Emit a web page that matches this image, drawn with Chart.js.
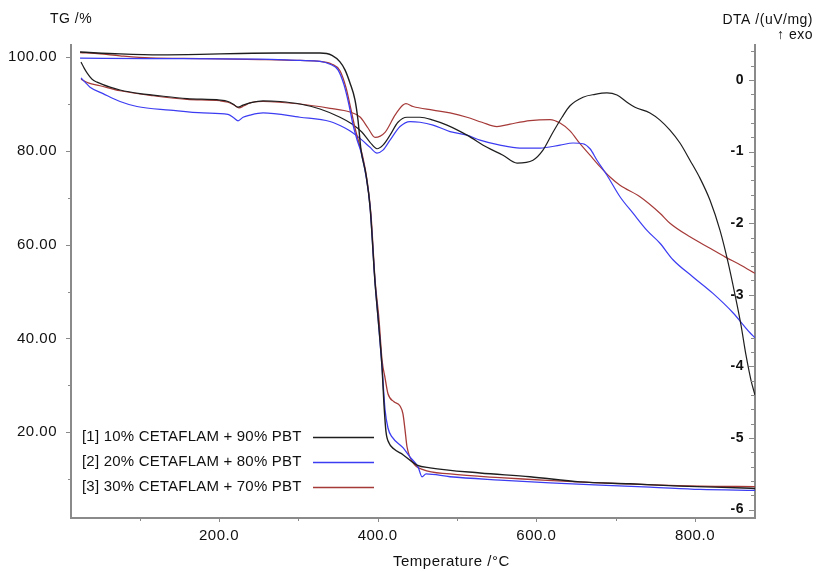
<!DOCTYPE html>
<html><head><meta charset="utf-8">
<script src="https://cdn.jsdelivr.net/npm/chart.js@4"></script>
<style>html,body{margin:0;padding:0;background:#fff;}canvas{display:block;}</style>
</head><body>
<canvas id="c" width="817" height="572"></canvas>
<script>
// ---- data ----
const seriesNames = ['[1] 10% CETAFLAM + 90% PBT', '[2] 20% CETAFLAM + 80% PBT', '[3] 30% CETAFLAM + 70% PBT'];
const tgTickValues = [20, 40, 60, 80, 100];
const dtaTickValues = [-6, -5, -4, -3, -2, -1, 0];
const tempTickValues = [200, 400, 600, 800];

// TG curves (temperature °C, mass %)
const tg1T = [24.8,75.2,125.6,176.0,226.5,276.9,327.3,342.4,352.5,358.8,365.1,371.4,375.2,379.0,385.3,390.4,396.7,400.4,405.5,408.0,410.5,414.3,420.6,431.9,449.6,466.0,529.0,592.0,655.1,718.1,781.1,860.6,875.7];
const tg1V = [101.1,100.7,100.5,100.6,100.8,100.9,100.9,100.4,99.0,97.3,94.5,90.9,86.6,80.2,74.9,68.1,51.9,44.6,33.9,25.8,20.1,17.7,16.4,15.2,13.0,12.4,11.3,10.5,9.4,9.0,8.5,8.1,8.0];
const tg2T = [24.8,113.0,251.7,302.1,327.3,339.9,350.0,357.6,363.9,368.9,374.0,379.0,385.3,390.4,396.7,400.4,405.5,409.3,413.0,418.1,431.9,440.8,450.9,455.9,461.0,491.2,554.2,617.3,680.3,743.3,806.3,875.7];
const tg2V = [99.8,99.7,99.6,99.3,99.1,98.5,97.3,94.1,89.8,85.6,82.4,79.8,74.7,68.1,51.9,44.6,33.9,24.8,20.9,19.0,16.7,14.7,12.6,10.5,11.1,10.5,9.8,9.2,8.7,8.3,7.8,7.6];
const tg3T = [24.8,50.0,75.2,113.0,176.0,251.7,302.1,327.3,342.4,352.5,360.1,366.4,371.4,376.5,381.5,386.6,391.6,396.7,401.7,405.5,409.3,413.0,420.6,428.2,431.9,434.5,437.0,444.6,457.2,491.2,554.2,680.3,806.3,875.7];
const tg3V = [101.0,100.7,100.3,99.85,99.7,99.5,99.3,99.1,98.5,97.1,93.5,88.8,84.9,81.7,78.5,73.8,66.4,52.5,44.0,35.4,31.6,28.2,26.5,25.6,23.9,20.5,16.9,13.5,12.0,11.1,10.3,9.2,8.5,8.4];

// DTA curves (temperature °C, uV/mg)
const dta1T = [26.0,29.8,33.6,40.0,46.2,62.6,75.2,100.4,116.8,159.7,201.3,211.3,217.6,224.0,230.3,239.1,255.5,276.9,302.1,327.3,352.5,367.7,380.3,390.4,399.2,406.7,415.6,425.6,437.0,453.4,469.8,487.4,512.6,537.8,558.0,575.7,595.8,608.4,621.0,632.4,642.5,658.9,674.0,689.1,701.7,714.3,724.4,743.3,755.9,768.5,781.1,793.7,806.3,819.0,831.6,841.6,850.5,858.0,864.3,870.6,875.7];
const dta1V = [0.25,0.17,0.10,0.01,-0.03,-0.10,-0.14,-0.19,-0.21,-0.26,-0.28,-0.30,-0.335,-0.38,-0.35,-0.32,-0.29,-0.30,-0.335,-0.405,-0.52,-0.615,-0.73,-0.87,-0.96,-0.91,-0.77,-0.59,-0.52,-0.52,-0.56,-0.63,-0.77,-0.94,-1.05,-1.16,-1.12,-0.98,-0.73,-0.52,-0.36,-0.24,-0.20,-0.18,-0.21,-0.31,-0.38,-0.46,-0.56,-0.70,-0.88,-1.12,-1.37,-1.68,-2.10,-2.54,-3.00,-3.42,-3.84,-4.19,-4.40];
const dta2T = [26.0,31.1,37.4,53.8,75.2,96.6,138.2,179.8,211.3,218.9,224.0,230.3,239.1,255.5,302.1,339.9,358.8,367.7,380.3,390.4,399.2,406.7,415.6,428.2,440.8,453.4,469.8,491.2,512.6,529.0,554.2,579.4,604.7,629.9,646.3,658.9,667.7,676.5,689.1,705.5,721.9,739.5,755.9,772.3,797.5,822.7,847.9,869.4,875.7];
const dta2V = [0.03,-0.03,-0.10,-0.19,-0.30,-0.37,-0.42,-0.46,-0.48,-0.53,-0.57,-0.52,-0.49,-0.46,-0.52,-0.58,-0.67,-0.73,-0.84,-0.94,-1.02,-0.98,-0.84,-0.65,-0.58,-0.59,-0.63,-0.72,-0.77,-0.84,-0.91,-0.95,-0.95,-0.91,-0.88,-0.89,-0.96,-1.12,-1.33,-1.63,-1.86,-2.10,-2.28,-2.51,-2.75,-2.98,-3.25,-3.53,-3.60];
const dta3T = [26.0,35.1,50.0,75.2,116.8,159.7,201.3,211.3,218.9,225.2,231.5,239.1,255.5,302.1,339.9,365.1,377.8,387.8,396.7,409.3,421.9,431.9,435.7,444.6,469.8,491.2,512.6,531.5,550.4,566.8,592.0,617.3,629.9,642.5,655.1,667.7,680.3,692.9,705.5,730.7,755.9,768.5,793.7,819.0,837.9,856.8,875.7];
const dta3V = [0.01,-0.04,-0.08,-0.15,-0.22,-0.27,-0.29,-0.31,-0.35,-0.39,-0.36,-0.32,-0.30,-0.335,-0.395,-0.447,-0.517,-0.67,-0.80,-0.73,-0.49,-0.35,-0.33,-0.37,-0.42,-0.46,-0.52,-0.59,-0.65,-0.615,-0.566,-0.552,-0.60,-0.71,-0.89,-1.05,-1.21,-1.355,-1.47,-1.63,-1.86,-2.00,-2.19,-2.35,-2.47,-2.58,-2.70];

// ---- styling ----
const FONT = "'Liberation Sans', Arial, sans-serif";
const axisColor = '#8a8a8a';
const colBlack = '#1e1e1e', colBlue = '#3c3cf2', colRed = '#a53a38';
const seriesColors = [colBlack, colBlue, colRed];

function pts(xs, ys) { return xs.map((x, i) => ({x: x, y: ys[i]})); }
function ds(xs, ys, color, axis, w) {
  return {data: pts(xs, ys), borderColor: color, borderWidth: w, yAxisID: axis,
    pointRadius: 0, showLine: true, fill: false, cubicInterpolationMode: 'monotone'};
}

const decor = {
  id: 'decor',
  beforeDraw(chart) { chart.ctx.letterSpacing = '0.5px'; },
  afterDraw(chart) {
    const ctx = chart.ctx;
    const sx = chart.scales.x, sy = chart.scales.y, sy2 = chart.scales.y2;
    const a = chart.chartArea;
    ctx.save();
    ctx.strokeStyle = axisColor;
    ctx.lineWidth = 1;
    const line = (x1, y1, x2, y2) => { ctx.beginPath(); ctx.moveTo(x1, y1); ctx.lineTo(x2, y2); ctx.stroke(); };
    // left ticks (outward)
    tgTickValues.forEach(v => {
      const p = Math.round(sy.getPixelForValue(v)) + 0.5; line(a.left - 5, p, a.left, p);
      const m = Math.round(sy.getPixelForValue(v - 10)) + 0.5; line(a.left - 3, m, a.left, m);
    });
    // right ticks (inward)
    for (let k = 0; k <= 32; k++) {
      const v = dtaTickValues[0] + k * 0.2;
      const p = Math.round(sy2.getPixelForValue(v)) + 0.5;
      const major = k % 5 === 0;
      line(a.right - (major ? 6 : 4), p, a.right, p);
    }
    // bottom ticks
    tempTickValues.forEach(v => {
      const p = Math.round(sx.getPixelForValue(v)) + 0.5; line(p, a.bottom, p, a.bottom + 4);
      const m = Math.round(sx.getPixelForValue(v - 100)) + 0.5; line(m, a.bottom, m, a.bottom + 3);
    });
    // axis titles
    ctx.fillStyle = '#111';
    ctx.font = '14px ' + FONT;
    ctx.textBaseline = 'middle';
    ctx.textAlign = 'left';
    ctx.fillText('TG /%', 50, 19);
    ctx.textAlign = 'right';
    ctx.fillText('DTA /(uV/mg)', 813, 20);
    ctx.fillText('\u2191 exo', 813, 35);
    ctx.textAlign = 'left';
    ctx.font = '15px ' + FONT;
    ctx.fillText('Temperature /\u00B0C', 393, 562);
    // legend
    ctx.letterSpacing = '0.2px';
    const ly = [437, 462, 487];
    seriesNames.forEach((name, i) => {
      ctx.fillStyle = '#111';
      ctx.textAlign = 'left';
      ctx.fillText(name, 82, ly[i]);
      ctx.strokeStyle = seriesColors[i];
      ctx.lineWidth = 1.5;
      line(313, ly[i] + 0.5, 374, ly[i] + 0.5);
    });
    ctx.restore();
  }
};

Chart.defaults.font.family = FONT;
Chart.defaults.font.size = 15;
Chart.defaults.color = '#111';

new Chart(document.getElementById('c'), {
  type: 'scatter',
  data: {
    datasets: [
      ds(tg1T, tg1V, colBlack, 'y', 1.4),
      ds(tg2T, tg2V, colBlue, 'y', 1.3),
      ds(tg3T, tg3V, colRed, 'y', 1.3),
      ds(dta1T, dta1V, colBlack, 'y2', 1.2),
      ds(dta2T, dta2V, colBlue, 'y2', 1.2),
      ds(dta3T, dta3V, colRed, 'y2', 1.2)
    ]
  },
  options: {
    responsive: false,
    animation: false,
    events: [],
    layout: {padding: {top: 45, left: 0, right: 0, bottom: 0}},
    plugins: {legend: {display: false}, tooltip: {enabled: false}},
    scales: {
      x: {
        type: 'linear', min: 13.4, max: 875.7,
        afterBuildTicks: s => { s.ticks = tempTickValues.map(v => ({value: v})); },
        afterFit: s => { s.height = 54; },
        ticks: {callback: v => Number(v).toFixed(1), padding: 9, maxRotation: 0, autoSkip: false},
        grid: {display: false, drawTicks: false},
        border: {display: true, color: axisColor, width: 2}
      },
      y: {
        type: 'linear', position: 'left', min: 1.7, max: 102.6,
        afterBuildTicks: s => { s.ticks = tgTickValues.map(v => ({value: v})); },
        afterFit: s => { s.width = 71; },
        ticks: {callback: v => Number(v).toFixed(2), padding: 14},
        grid: {display: false, drawTicks: false},
        border: {display: true, color: axisColor, width: 2}
      },
      y2: {
        type: 'linear', position: 'right', min: -6.117, max: 0.489,
        afterBuildTicks: s => { s.ticks = dtaTickValues.map(v => ({value: v})); },
        afterFit: s => { s.width = 62; },
        ticks: {callback: v => String(Number(v) === 0 ? 0 : v), mirror: true, padding: -11, font: {weight: 'bold', size: 14}},
        grid: {display: false, drawTicks: false},
        border: {display: true, color: axisColor, width: 2}
      }
    }
  },
  plugins: [decor]
});
</script>
</body></html>
